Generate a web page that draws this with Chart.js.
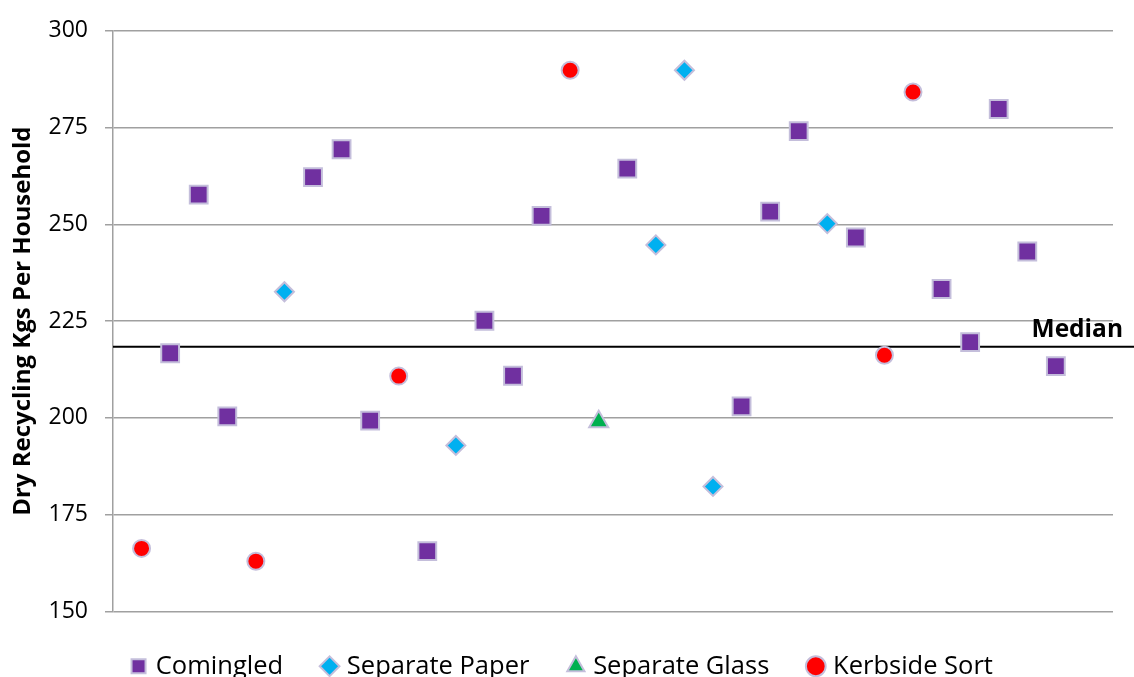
<!DOCTYPE html>
<html>
<head>
<meta charset="utf-8">
<script src="https://cdn.jsdelivr.net/npm/chart.js@4.4.1/dist/chart.umd.min.js"></script>
<style>
  html, body { margin: 0; padding: 0; background: #ffffff; overflow: hidden; }
  #wrap { width: 1134px; height: 689px; }
</style>
</head>
<body>
<div id="wrap"><canvas id="chart" width="1134" height="689"></canvas></div>
<script>
// Dry recycling per household, one point per authority (position along the x axis)
const comingledX = [2, 3, 4, 7, 8, 9, 11, 13, 14, 15, 18, 22, 23, 24, 26, 29, 30, 31, 32, 33];
const comingledY = [216.7, 257.7, 200.4, 262.2, 269.4, 199.3, 165.6, 225.1, 210.9, 252.2,
                    264.4, 203.0, 253.3, 274.1, 246.6, 233.3, 219.6, 279.8, 243.0, 213.4];

const paperX = [6, 12, 19, 20, 21, 25];
const paperY = [232.6, 192.9, 244.7, 289.8, 182.3, 250.2];

const glassX = [17];
const glassY = [199.0];

const kerbsideX = [1, 5, 10, 16, 27, 28];
const kerbsideY = [166.3, 163.0, 210.8, 289.8, 216.2, 284.2];

const seriesNames = ['Comingled', 'Separate Paper', 'Separate Glass', 'Kerbside Sort'];
const yTicks = [150, 175, 200, 225, 250, 275, 300];
const MEDIAN = 218.4;
const MEDIAN_LABEL = 'Median';
const AXIS_TITLE = 'Dry Recycling Kgs Per Household';

const FONT = '"Open Sans", "DejaVu Sans", sans-serif';
const MARKER_EDGE = '#c4bedb';

function points(xs, ys) {
  return xs.map((x, i) => ({ x: x, y: ys[i] }));
}

// Horizontal median reference line, running past the plot to the page edge
const medianLine = {
  id: 'medianLine',
  beforeDatasetsDraw(chart) {
    const { ctx, chartArea, scales } = chart;
    const y = scales.y.getPixelForValue(MEDIAN);
    ctx.save();
    ctx.strokeStyle = '#000000';
    ctx.lineWidth = 2;
    ctx.beginPath();
    ctx.moveTo(chartArea.left, y);
    ctx.lineTo(chart.width, y);
    ctx.stroke();
    ctx.fillStyle = '#000000';
    ctx.font = 'bold 24.5px ' + FONT;
    ctx.textAlign = 'right';
    ctx.textBaseline = 'alphabetic';
    ctx.fillText(MEDIAN_LABEL, chartArea.right + 10, y - 10);
    ctx.restore();
  }
};

const ctx = document.getElementById('chart').getContext('2d');
new Chart(ctx, {
  type: 'scatter',
  data: {
    datasets: [
      {
        label: seriesNames[0],
        data: points(comingledX, comingledY),
        pointStyle: 'rect',
        pointRadius: 12.6,
        backgroundColor: '#7030a0',
        borderColor: MARKER_EDGE,
        borderWidth: 2
      },
      {
        label: seriesNames[1],
        data: points(paperX, paperY),
        pointStyle: 'rectRot',
        pointRadius: 9.5,
        backgroundColor: '#00b0f0',
        borderColor: MARKER_EDGE,
        borderWidth: 2
      },
      {
        label: seriesNames[2],
        data: points(glassX, glassY),
        pointStyle: 'triangle',
        pointRadius: 11,
        backgroundColor: '#00b050',
        borderColor: MARKER_EDGE,
        borderWidth: 2
      },
      {
        label: seriesNames[3],
        data: points(kerbsideX, kerbsideY),
        pointStyle: 'circle',
        pointRadius: 8.5,
        backgroundColor: '#ff0000',
        borderColor: MARKER_EDGE,
        borderWidth: 2
      }
    ]
  },
  options: {
    responsive: false,
    animation: false,
    devicePixelRatio: 1,
    layout: { padding: { top: 27, right: 21, left: 14, bottom: 0 } },
    scales: {
      x: {
        type: 'linear',
        display: false,
        min: 0,
        max: 35
      },
      y: {
        type: 'linear',
        min: 150,
        max: 300,
        afterFit(scale) { scale.width = 99; },
        afterBuildTicks(scale) { scale.ticks = yTicks.map(v => ({ value: v })); },
        ticks: {
          padding: 17,
          color: '#000000',
          font: { family: FONT, size: 23 }
        },
        grid: {
          color: '#a0a0a0',
          lineWidth: 1.5,
          tickLength: 8,
          tickColor: '#a0a0a0'
        },
        border: { display: true, color: '#a0a0a0', width: 1.5 },
        title: {
          display: true,
          text: AXIS_TITLE,
          color: '#000000',
          font: { family: FONT, size: 24, weight: 'bold' },
          padding: { top: -5, bottom: 0 }
        }
      }
    },
    plugins: {
      legend: {
        position: 'bottom',
        labels: {
          usePointStyle: true,
          boxWidth: 9,
          boxHeight: 14,
          padding: 42,
          color: '#000000',
          font: { family: FONT, size: 25.5 }
        }
      },
      tooltip: { enabled: false }
    }
  },
  plugins: [medianLine]
});
</script>
</body>
</html>
